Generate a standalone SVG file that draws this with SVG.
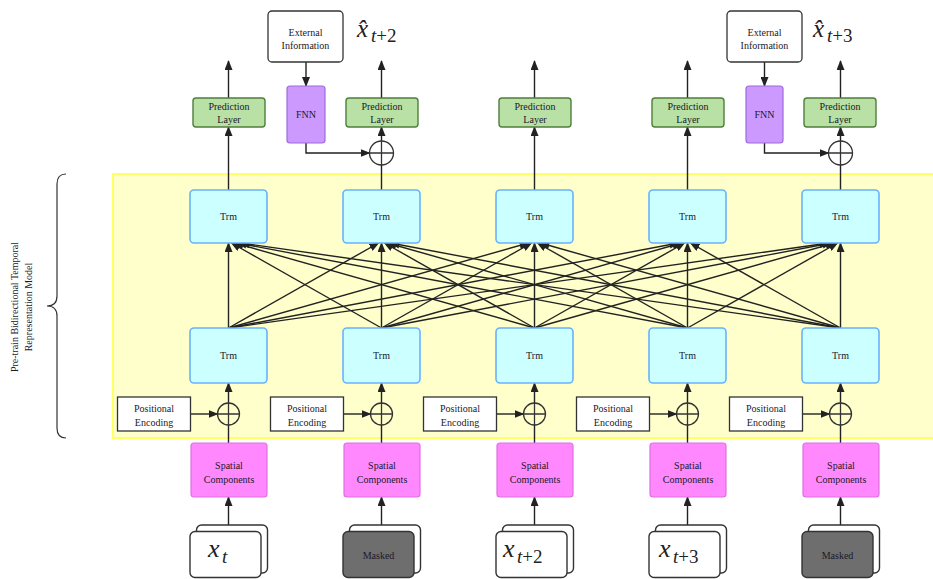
<svg xmlns="http://www.w3.org/2000/svg" width="933" height="579" viewBox="0 0 933 579">
<defs>
<marker id="ah" markerWidth="10" markerHeight="8" refX="9" refY="4" orient="auto" markerUnits="userSpaceOnUse">
<path d="M0,0 L10,4 L0,8 Z" fill="#222"/>
</marker>
<style>
text{font-family:"Liberation Serif","Times New Roman",serif;text-anchor:middle;dominant-baseline:central;}
.lbl{font-size:10px;fill:#1a1a2a;}
.trm{fill:#CCFFFF;stroke:#66B2FF;stroke-width:1.6;}
.pred{fill:#B9E0A5;stroke:#4E7F3A;stroke-width:1.4;}
.fnn{fill:#CC99FF;stroke:#9C6BDB;stroke-width:1.2;}
.sp{fill:#FF88FF;stroke:#E070E0;stroke-width:1.2;}
.pe{fill:#fff;stroke:#333;stroke-width:1.3;}
.ext{fill:#fff;stroke:#333;stroke-width:1.3;}
.card{fill:#fff;stroke:#333;stroke-width:1.4;}
.mask{fill:#6E6E6E;stroke:#333;stroke-width:1.4;}
.op{fill:none;stroke:#333;stroke-width:1.3;}
.c{stroke:#222;stroke-width:1.4;fill:none;}
.a{stroke:#222;stroke-width:1.4;fill:none;marker-end:url(#ah);}
.math{font-style:italic;fill:#222;}
</style>
</defs>
<rect width="933" height="579" fill="#fff"/>
<!-- yellow region -->
<rect id="bg-region" x="113" y="174" width="830" height="264" fill="#FFFFCC" stroke="#FFFF66" stroke-width="2"/>
<!-- brace -->
<g id="brace">
<path d="M66,174 Q57,174 57,184 L57,296 Q57,306 47,306 Q57,306 57,316 L57,428 Q57,438 66,438" fill="none" stroke="#333" stroke-width="1.2"/>
<text class="lbl" transform="translate(14,307) rotate(-90)">Pre-train Bidirectional Temporal</text>
<text class="lbl" transform="translate(28,307) rotate(-90)">Representation Model</text>
</g>

<!-- connectors -->
<g id="connectors">
<g>
<line class="a" x1="228.5" y1="328" x2="228.5" y2="243"/>
<line class="a" x1="228.5" y1="328" x2="378.5" y2="243"/>
<line class="a" x1="228.5" y1="328" x2="528.5" y2="243"/>
<line class="a" x1="228.5" y1="328" x2="678.5" y2="243"/>
<line class="a" x1="228.5" y1="328" x2="828.5" y2="243"/>
<line class="a" x1="381.5" y1="328" x2="231.5" y2="243"/>
<line class="a" x1="381.5" y1="328" x2="381.5" y2="243"/>
<line class="a" x1="381.5" y1="328" x2="531.5" y2="243"/>
<line class="a" x1="381.5" y1="328" x2="681.5" y2="243"/>
<line class="a" x1="381.5" y1="328" x2="831.5" y2="243"/>
<line class="a" x1="534.5" y1="328" x2="234.5" y2="243"/>
<line class="a" x1="534.5" y1="328" x2="384.5" y2="243"/>
<line class="a" x1="534.5" y1="328" x2="534.5" y2="243"/>
<line class="a" x1="534.5" y1="328" x2="684.5" y2="243"/>
<line class="a" x1="534.5" y1="328" x2="834.5" y2="243"/>
<line class="a" x1="687.5" y1="328" x2="237.5" y2="243"/>
<line class="a" x1="687.5" y1="328" x2="387.5" y2="243"/>
<line class="a" x1="687.5" y1="328" x2="537.5" y2="243"/>
<line class="a" x1="687.5" y1="328" x2="687.5" y2="243"/>
<line class="a" x1="687.5" y1="328" x2="837.5" y2="243"/>
<line class="a" x1="840.5" y1="328" x2="240.5" y2="243"/>
<line class="a" x1="840.5" y1="328" x2="390.5" y2="243"/>
<line class="a" x1="840.5" y1="328" x2="540.5" y2="243"/>
<line class="a" x1="840.5" y1="328" x2="690.5" y2="243"/>
<line class="a" x1="840.5" y1="328" x2="840.5" y2="243"/>
</g>
<line class="a" x1="228.5" y1="190" x2="228.5" y2="127"/>
<line class="c" x1="381.5" y1="190" x2="381.5" y2="165"/>
<line class="a" x1="381.5" y1="141" x2="381.5" y2="127"/>
<line class="a" x1="534.5" y1="190" x2="534.5" y2="127"/>
<line class="a" x1="687.5" y1="190" x2="687.5" y2="127"/>
<line class="c" x1="840.5" y1="190" x2="840.5" y2="165"/>
<line class="a" x1="840.5" y1="141" x2="840.5" y2="127"/>
<line class="a" x1="228.5" y1="98" x2="228.5" y2="61"/>
<line class="a" x1="381.5" y1="98" x2="381.5" y2="61"/>
<line class="a" x1="534.5" y1="98" x2="534.5" y2="61"/>
<line class="a" x1="687.5" y1="98" x2="687.5" y2="61"/>
<line class="a" x1="840.5" y1="98" x2="840.5" y2="61"/>
<line class="a" x1="306" y1="62" x2="306" y2="86"/>
<path class="a" d="M306,143 L306,153 L369.5,153"/>
<line class="a" x1="764.5" y1="62" x2="764.5" y2="86"/>
<path class="a" d="M764.5,143 L764.5,153 L828.5,153"/>
<line class="a" x1="190.5" y1="414" x2="217.5" y2="414"/>
<line class="a" x1="343.5" y1="414" x2="370.5" y2="414"/>
<line class="a" x1="496.5" y1="414" x2="523.5" y2="414"/>
<line class="a" x1="649.5" y1="414" x2="676.5" y2="414"/>
<line class="a" x1="802.5" y1="414" x2="829.5" y2="414"/>
<line class="c" x1="228.5" y1="443" x2="228.5" y2="425"/>
<line class="c" x1="381.5" y1="443" x2="381.5" y2="425"/>
<line class="c" x1="534.5" y1="443" x2="534.5" y2="425"/>
<line class="c" x1="687.5" y1="443" x2="687.5" y2="425"/>
<line class="c" x1="840.5" y1="443" x2="840.5" y2="425"/>
<line class="a" x1="228.5" y1="403" x2="228.5" y2="383"/>
<line class="a" x1="381.5" y1="403" x2="381.5" y2="383"/>
<line class="a" x1="534.5" y1="403" x2="534.5" y2="383"/>
<line class="a" x1="687.5" y1="403" x2="687.5" y2="383"/>
<line class="a" x1="840.5" y1="403" x2="840.5" y2="383"/>
<line class="a" x1="228.5" y1="525" x2="228.5" y2="497"/>
<line class="a" x1="381.5" y1="525" x2="381.5" y2="497"/>
<line class="a" x1="534.5" y1="525" x2="534.5" y2="497"/>
<line class="a" x1="687.5" y1="525" x2="687.5" y2="497"/>
<line class="a" x1="840.5" y1="525" x2="840.5" y2="497"/>
</g>

<!-- column 1 -->
<g id="trm-top-1"><rect class="trm" x="190" y="190" width="77" height="53" rx="4"/><text class="lbl" x="228.5" y="216.5">Trm</text></g>
<g id="trm-bot-1"><rect class="trm" x="190" y="328" width="77" height="55" rx="4"/><text class="lbl" x="228.5" y="355.5">Trm</text></g>
<g id="pred-1"><rect class="pred" x="193" y="98" width="72" height="29" rx="3"/><text class="lbl" x="229" y="106.5">Prediction</text><text class="lbl" x="229" y="119">Layer</text></g>
<g id="pe-1"><rect class="pe" x="117.5" y="397" width="73" height="34"/><text class="lbl" x="154" y="408">Positional</text><text class="lbl" x="154" y="422">Encoding</text></g>
<g id="add-1"><circle class="op" cx="228.5" cy="414" r="11"/><path class="op" d="M217.5,414 H239.5 M228.5,403 V425"/></g>
<g id="sp-1"><rect class="sp" x="191" y="443" width="76" height="54" rx="3"/><text class="lbl" x="229" y="465" fill="#3a0a3a">Spatial</text><text class="lbl" x="229" y="479" fill="#3a0a3a">Components</text></g>
<g id="in-1"><rect class="card" x="196.5" y="525" width="71" height="48" rx="5"/><rect class="card" x="190" y="531.5" width="71" height="46" rx="5"/>
<text class="math" x="208" y="557" font-size="26" style="text-anchor:start;dominant-baseline:auto">x</text><text class="math" x="222" y="563" font-size="19" style="text-anchor:start;dominant-baseline:auto">t</text></g>

<!-- column 2 -->
<g id="trm-top-2"><rect class="trm" x="343" y="190" width="77" height="53" rx="4"/><text class="lbl" x="381.5" y="216.5">Trm</text></g>
<g id="trm-bot-2"><rect class="trm" x="343" y="328" width="77" height="55" rx="4"/><text class="lbl" x="381.5" y="355.5">Trm</text></g>
<g id="pred-2"><rect class="pred" x="346" y="98" width="72" height="29" rx="3"/><text class="lbl" x="382" y="106.5">Prediction</text><text class="lbl" x="382" y="119">Layer</text></g>
<g id="ext-2"><rect class="ext" x="268" y="11" width="75" height="51" rx="4"/><text class="lbl" x="305.5" y="32">External</text><text class="lbl" x="305.5" y="45.5">Information</text></g>
<g id="fnn-2"><rect class="fnn" x="287" y="86" width="38" height="57" rx="3"/><text class="lbl" x="306" y="114.5" fill="#2a0a4a">FNN</text></g>
<g id="add-out-2"><circle class="op" cx="381.5" cy="153" r="12"/><path class="op" d="M369.5,153 H393.5 M381.5,141 V165"/></g>
<g id="out-2"><text class="math" x="357" y="37" font-size="25" style="text-anchor:start;dominant-baseline:auto">x̂</text><text x="371" y="42" font-size="19" fill="#222" style="text-anchor:start;dominant-baseline:auto"><tspan font-style="italic">t</tspan>+2</text></g>
<g id="pe-2"><rect class="pe" x="270.5" y="397" width="73" height="34"/><text class="lbl" x="307" y="408">Positional</text><text class="lbl" x="307" y="422">Encoding</text></g>
<g id="add-2"><circle class="op" cx="381.5" cy="414" r="11"/><path class="op" d="M370.5,414 H392.5 M381.5,403 V425"/></g>
<g id="sp-2"><rect class="sp" x="344" y="443" width="76" height="54" rx="3"/><text class="lbl" x="382" y="465" fill="#3a0a3a">Spatial</text><text class="lbl" x="382" y="479" fill="#3a0a3a">Components</text></g>
<g id="in-2"><rect class="card" x="349.5" y="525" width="71" height="48" rx="5"/><rect class="mask" x="343" y="531.5" width="71" height="46" rx="5"/><text class="lbl" x="378.5" y="555">Masked</text></g>

<!-- column 3 -->
<g id="trm-top-3"><rect class="trm" x="496" y="190" width="77" height="53" rx="4"/><text class="lbl" x="534.5" y="216.5">Trm</text></g>
<g id="trm-bot-3"><rect class="trm" x="496" y="328" width="77" height="55" rx="4"/><text class="lbl" x="534.5" y="355.5">Trm</text></g>
<g id="pred-3"><rect class="pred" x="499" y="98" width="72" height="29" rx="3"/><text class="lbl" x="535" y="106.5">Prediction</text><text class="lbl" x="535" y="119">Layer</text></g>
<g id="pe-3"><rect class="pe" x="423.5" y="397" width="73" height="34"/><text class="lbl" x="460" y="408">Positional</text><text class="lbl" x="460" y="422">Encoding</text></g>
<g id="add-3"><circle class="op" cx="534.5" cy="414" r="11"/><path class="op" d="M523.5,414 H545.5 M534.5,403 V425"/></g>
<g id="sp-3"><rect class="sp" x="497" y="443" width="76" height="54" rx="3"/><text class="lbl" x="535" y="465" fill="#3a0a3a">Spatial</text><text class="lbl" x="535" y="479" fill="#3a0a3a">Components</text></g>
<g id="in-3"><rect class="card" x="502.5" y="525" width="71" height="48" rx="5"/><rect class="card" x="496" y="531.5" width="71" height="46" rx="5"/>
<text class="math" x="503" y="557" font-size="26" style="text-anchor:start;dominant-baseline:auto">x</text><text x="517" y="563" font-size="19" fill="#222" style="text-anchor:start;dominant-baseline:auto"><tspan font-style="italic">t</tspan>+2</text></g>

<!-- column 4 -->
<g id="trm-top-4"><rect class="trm" x="649" y="190" width="77" height="53" rx="4"/><text class="lbl" x="687.5" y="216.5">Trm</text></g>
<g id="trm-bot-4"><rect class="trm" x="649" y="328" width="77" height="55" rx="4"/><text class="lbl" x="687.5" y="355.5">Trm</text></g>
<g id="pred-4"><rect class="pred" x="652" y="98" width="72" height="29" rx="3"/><text class="lbl" x="688" y="106.5">Prediction</text><text class="lbl" x="688" y="119">Layer</text></g>
<g id="pe-4"><rect class="pe" x="576.5" y="397" width="73" height="34"/><text class="lbl" x="613" y="408">Positional</text><text class="lbl" x="613" y="422">Encoding</text></g>
<g id="add-4"><circle class="op" cx="687.5" cy="414" r="11"/><path class="op" d="M676.5,414 H698.5 M687.5,403 V425"/></g>
<g id="sp-4"><rect class="sp" x="650" y="443" width="76" height="54" rx="3"/><text class="lbl" x="688" y="465" fill="#3a0a3a">Spatial</text><text class="lbl" x="688" y="479" fill="#3a0a3a">Components</text></g>
<g id="in-4"><rect class="card" x="655.5" y="525" width="71" height="48" rx="5"/><rect class="card" x="649" y="531.5" width="71" height="46" rx="5"/>
<text class="math" x="659" y="557" font-size="26" style="text-anchor:start;dominant-baseline:auto">x</text><text x="673" y="563" font-size="19" fill="#222" style="text-anchor:start;dominant-baseline:auto"><tspan font-style="italic">t</tspan>+3</text></g>

<!-- column 5 -->
<g id="trm-top-5"><rect class="trm" x="802" y="190" width="77" height="53" rx="4"/><text class="lbl" x="840.5" y="216.5">Trm</text></g>
<g id="trm-bot-5"><rect class="trm" x="802" y="328" width="77" height="55" rx="4"/><text class="lbl" x="840.5" y="355.5">Trm</text></g>
<g id="pred-5"><rect class="pred" x="804" y="98" width="72" height="29" rx="3"/><text class="lbl" x="840" y="106.5">Prediction</text><text class="lbl" x="840" y="119">Layer</text></g>
<g id="ext-5"><rect class="ext" x="727" y="11" width="75" height="51" rx="4"/><text class="lbl" x="764.5" y="32">External</text><text class="lbl" x="764.5" y="45.5">Information</text></g>
<g id="fnn-5"><rect class="fnn" x="746" y="86" width="37" height="57" rx="3"/><text class="lbl" x="764.5" y="114.5" fill="#2a0a4a">FNN</text></g>
<g id="add-out-5"><circle class="op" cx="840.5" cy="153" r="12"/><path class="op" d="M828.5,153 H852.5 M840.5,141 V165"/></g>
<g id="out-5"><text class="math" x="813" y="37" font-size="25" style="text-anchor:start;dominant-baseline:auto">x̂</text><text x="827" y="42" font-size="19" fill="#222" style="text-anchor:start;dominant-baseline:auto"><tspan font-style="italic">t</tspan>+3</text></g>
<g id="pe-5"><rect class="pe" x="729.5" y="397" width="73" height="34"/><text class="lbl" x="766" y="408">Positional</text><text class="lbl" x="766" y="422">Encoding</text></g>
<g id="add-5"><circle class="op" cx="840.5" cy="414" r="11"/><path class="op" d="M829.5,414 H851.5 M840.5,403 V425"/></g>
<g id="sp-5"><rect class="sp" x="803" y="443" width="76" height="54" rx="3"/><text class="lbl" x="841" y="465" fill="#3a0a3a">Spatial</text><text class="lbl" x="841" y="479" fill="#3a0a3a">Components</text></g>
<g id="in-5"><rect class="card" x="808.5" y="525" width="71" height="48" rx="5"/><rect class="mask" x="802" y="531.5" width="71" height="46" rx="5"/><text class="lbl" x="837.5" y="555">Masked</text></g>
</svg>
